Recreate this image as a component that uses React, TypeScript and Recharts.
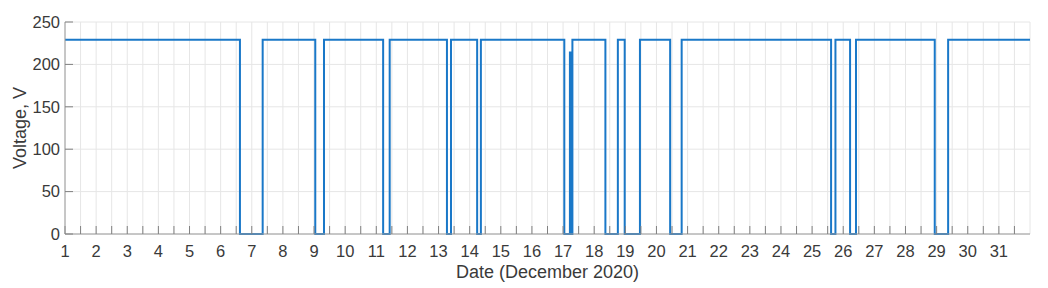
import React from "react";
import {
  LineChart,
  Line,
  XAxis,
  YAxis,
  CartesianGrid,
} from "recharts";

// switching instants (day of month) and voltage held from that instant on
const switchDays = [
  1, 6.62, 7.35, 9.04, 9.32, 11.22, 11.43, 13.27, 13.4, 14.24, 14.36, 17.04,
  17.22, 17.25, 17.3, 18.36, 18.76, 18.98, 19.47, 20.44, 20.81, 25.61, 25.75,
  26.22, 26.41, 28.94, 29.37, 32,
];
const voltages = [
  229, 0, 229, 0, 229, 0, 229, 0, 229, 0, 229, 0, 214, 0, 229, 0, 229, 0, 229,
  0, 229, 0, 229, 0, 229, 0, 229, 229,
];

const yTicks = [0, 50, 100, 150, 200, 250];
const dayTicks: number[] = [];
for (let d = 1; d <= 31.5; d += 0.5) dayTicks.push(d);

const data = switchDays.map((day, i) => ({ day, voltage: voltages[i] }));

const font = "'Liberation Sans', Arial, Helvetica, sans-serif";
const textColor = "#3a3a3a";
const tickStyle = { fontSize: 16.5, fill: textColor, fontFamily: font };
const labelStyle = { fontSize: 18, fill: textColor, fontFamily: font };
const dayLabel = (v: number) => (Number.isInteger(v) ? String(v) : "");
const blank = () => "";

const App: React.FC = () => {
  return (
    <div style={{ position: "absolute", left: 0, top: 0, background: "#fff" }}>
      <LineChart
        width={1048}
        height={288}
        data={data}
        margin={{ top: 22, right: 18, bottom: 0, left: 0 }}
      >
        <CartesianGrid stroke="#e6e6e6" strokeWidth={1} />
        <XAxis
          dataKey="day"
          type="number"
          domain={[1, 32]}
          ticks={dayTicks}
          interval={0}
          allowDataOverflow
          height={54}
          tickSize={-8}
          tickMargin={19}
          tickFormatter={dayLabel}
          tick={tickStyle}
          stroke="#9a9a9a"
          tickLine={{ stroke: "#808080" }}
          axisLine={{ stroke: "#9a9a9a" }}
          label={{
            value: "Date (December 2020)",
            position: "insideBottom",
            offset: 10,
            style: labelStyle,
          }}
        />
        <XAxis
          xAxisId="top"
          orientation="top"
          dataKey="day"
          type="number"
          domain={[1, 32]}
          ticks={dayTicks}
          interval={0}
          allowDataOverflow
          height={0}
          tickSize={-8}
          tickFormatter={blank}
          stroke="#9a9a9a"
          tickLine={{ stroke: "#808080" }}
          axisLine={{ stroke: "#9a9a9a" }}
        />
        <YAxis
          type="number"
          domain={[0, 250]}
          ticks={yTicks}
          interval={0}
          width={65}
          tickSize={-8}
          tickMargin={13}
          tick={tickStyle}
          stroke="#9a9a9a"
          tickLine={{ stroke: "#808080" }}
          axisLine={{ stroke: "#9a9a9a" }}
          label={{
            value: "Voltage, V",
            angle: -90,
            position: "insideLeft",
            offset: 20,
            textAnchor: "middle",
            style: labelStyle,
          }}
        />
        <YAxis
          yAxisId="right"
          orientation="right"
          type="number"
          domain={[0, 250]}
          ticks={yTicks}
          interval={0}
          width={0}
          tickSize={-8}
          tickFormatter={blank}
          stroke="#9a9a9a"
          tickLine={{ stroke: "#808080" }}
          axisLine={{ stroke: "#9a9a9a" }}
        />
        <Line
          type="stepAfter"
          dataKey="voltage"
          stroke="#1a78c8"
          strokeWidth={2}
          dot={false}
          isAnimationActive={false}
        />
      </LineChart>
    </div>
  );
};

export default App;
